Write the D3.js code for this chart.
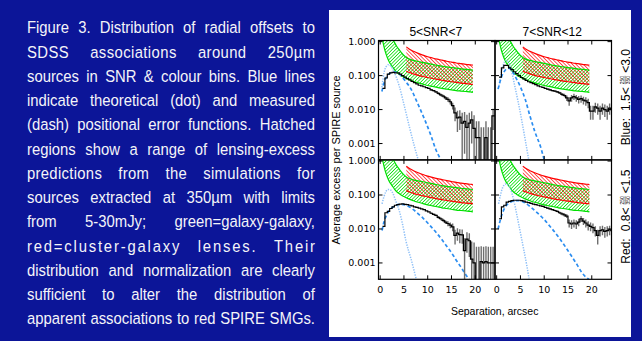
<!DOCTYPE html>
<html>
<head>
<meta charset="utf-8">
<script src="https://cdn.jsdelivr.net/npm/d3@7"></script>
<style>
  html, body { margin: 0; padding: 0; background: #0c1598; }
  svg { display: block; }
</style>
</head>
<body>
<svg id="fig" width="642" height="341"></svg>
<script>
// caption, one entry per printed line (justified)
const captionLines = [
  'Figure 3. Distribution of radial offsets to',
  'SDSS associations around 250µm',
  'sources in SNR & colour bins. Blue lines',
  'indicate theoretical (dot) and measured',
  '(dash) positional error functions. Hatched',
  'regions show a range of lensing-excess',
  'predictions from the simulations for',
  'sources extracted at 350µm with limits',
  'from 5-30mJy; green=galaxy-galaxy,',
  'red=cluster-galaxy lenses. Their',
  'distribution and normalization are clearly',
  'sufficient to alter the distribution of',
  'apparent associations to red SPIRE SMGs.'
];
// extra letter spacing (px) used by the typesetter on a few lines
const captionTracking = [0, 0.4, 0, 0, 0, 0, 0.3, 0, 0, 1.8, 0, 0, 0];

const colTitles = ['5<SNR<7', '7<SNR<12'];
const rowNames = ['Blue:', 'Red:'];
const rowLo = ['1.5<', '0.8<'];
const rowHi = ['<3.0', '<1.5'];
const yTicks = [1, 0.1, 0.01, 0.001];
const yTickLabels = ['1.000', '0.100', '0.010', '0.001'];
const xTicks = [0, 5, 10, 15, 20];

// lensing-excess predictions (same in every panel): [sep, low, high]
const greenSep = [0.5, 1, 1.5, 2, 2.5, 3, 3.5, 4, 4.5, 5, 5.5, 6, 7, 8, 9, 10, 11, 12, 13, 14, 15, 16, 17, 18, 19, 19.5];
const greenLo = [1.1, 0.55, 0.34, 0.24, 0.19, 0.15, 0.125, 0.11, 0.098, 0.09, 0.083, 0.077, 0.068, 0.061, 0.056, 0.051, 0.048, 0.045, 0.042, 0.04, 0.038, 0.036, 0.035, 0.034, 0.033, 0.032];
const greenHi = [5, 3.5, 2.6, 1.9, 1.3, 0.95, 0.72, 0.58, 0.47, 0.39, 0.34, 0.31, 0.28, 0.26, 0.245, 0.23, 0.215, 0.2, 0.19, 0.18, 0.172, 0.165, 0.158, 0.153, 0.148, 0.145];
const redSep = [5.5, 6, 7, 8, 9, 10, 11, 12, 13, 14, 15, 16, 17, 18, 19, 19.5];
const redLo = [0.135, 0.125, 0.112, 0.102, 0.094, 0.088, 0.082, 0.077, 0.073, 0.069, 0.066, 0.063, 0.06, 0.058, 0.056, 0.055];
const redHi = [0.7, 0.62, 0.52, 0.45, 0.4, 0.36, 0.33, 0.305, 0.285, 0.265, 0.25, 0.235, 0.225, 0.215, 0.207, 0.203];

// measured excess, 0.5" bins starting at 0.5"
const binStart = 0.5;
const binWidth = 0.5;
const histB1 = [0.042, 0.085, 0.11, 0.12, 0.125, 0.12, 0.12, 0.11, 0.1, 0.09, 0.082, 0.075, 0.068, 0.062, 0.057, 0.052,
  0.05, 0.047, 0.044, 0.042, 0.038, 0.036, 0.033, 0.03, 0.027, 0.025, 0.022, 0.02, 0.017, 0.013, 0.008, 0.0057,
  0.006, 0.004, 0.0045, 0.003, 0.004, 0.005, 0.0028, 0.0015, 0.0015, 0, 0, 0.0015, 0, 0, 0.0065, 0.0065];
const errB1 = [0, 0, 0, 0, 0, 0, 0, 0, 0, 0, 0, 0, 0, 0, 0, 0,
  0, 0, 0, 0, 0.002, 0.002, 0.002, 0.0025, 0.0025, 0.0025, 0.003, 0.003, 0.003, 0.003, 0.0035, 0.0035,
  0.0035, 0.004, 0.004, 0.004, 0.004, 0.004, 0.004, 0.003, 0.003, 0.003, 0.003, 0.003, 0.003, 0.003, 0.004, 0.004];
const histB2 = [0.09, 0.17, 0.2, 0.2, 0.17, 0.15, 0.13, 0.115, 0.1, 0.088, 0.08, 0.072, 0.066, 0.062, 0.058, 0.054,
  0.05, 0.047, 0.045, 0.042, 0.04, 0.038, 0.036, 0.035, 0.033, 0.031, 0.028, 0.026, 0.022, 0.018, 0.022, 0.024,
  0.022, 0.02, 0.021, 0.019, 0.018, 0.016, 0.009, 0.009, 0.012, 0.011, 0.009, 0.011, 0.01, 0.009, 0.011, 0.01];
const errB2 = [0, 0, 0, 0, 0, 0, 0, 0, 0, 0, 0, 0, 0, 0, 0, 0,
  0, 0, 0, 0, 0.002, 0.002, 0.002, 0.002, 0.0025, 0.0025, 0.003, 0.003, 0.004, 0.005, 0.005, 0.005,
  0.005, 0.005, 0.005, 0.005, 0.005, 0.005, 0.004, 0.004, 0.004, 0.004, 0.004, 0.004, 0.004, 0.004, 0.004, 0.004];
const histR1 = [0.012, 0.03, 0.033, 0.04, 0.045, 0.05, 0.052, 0.054, 0.055, 0.053, 0.052, 0.05, 0.048, 0.045, 0.043, 0.041,
  0.039, 0.037, 0.034, 0.032, 0.029, 0.027, 0.025, 0.022, 0.02, 0.018, 0.016, 0.0145, 0.013, 0.0115, 0.0065, 0.0075,
  0.0068, 0.0067, 0.0023, 0.005, 0.0045, 0.0013, 0.001, 0, 0, 0.0011, 0.001, 0.0011, 0.001, 0.001, 0.001, 0.001];
const errR1 = [0, 0, 0, 0, 0, 0, 0, 0, 0, 0, 0, 0, 0, 0, 0, 0,
  0, 0, 0, 0, 0.0015, 0.0015, 0.0015, 0.002, 0.002, 0.002, 0.002, 0.0025, 0.0025, 0.003, 0.003, 0.003,
  0.003, 0.003, 0.003, 0.003, 0.003, 0.003, 0.003, 0.003, 0.003, 0.002, 0.002, 0.002, 0.002, 0.002, 0.002, 0.002];
const histR2 = [0.02, 0.045, 0.05, 0.062, 0.065, 0.068, 0.07, 0.07, 0.07, 0.068, 0.066, 0.062, 0.06, 0.057, 0.054, 0.052,
  0.05, 0.048, 0.046, 0.043, 0.041, 0.039, 0.037, 0.035, 0.033, 0.03, 0.028, 0.026, 0.024, 0.015, 0.014, 0.015,
  0.014, 0.016, 0.02, 0.017, 0.015, 0.013, 0.012, 0.011, 0.009, 0.0065, 0.009, 0.0095, 0.0085, 0.009, 0.0095, 0.009];
const errR2 = [0, 0, 0, 0, 0, 0, 0, 0, 0, 0, 0, 0, 0, 0, 0, 0,
  0, 0, 0, 0, 0.002, 0.002, 0.002, 0.002, 0.002, 0.0025, 0.0025, 0.003, 0.003, 0.004, 0.004, 0.004,
  0.004, 0.004, 0.004, 0.004, 0.004, 0.004, 0.0035, 0.0035, 0.003, 0.003, 0.003, 0.003, 0.003, 0.003, 0.003, 0.003];

// theoretical (dot) positional error functions
const dotSepB1 = [0.36, 0.85, 1.2, 1.76, 2.26, 2.96, 4.0, 5.07, 6.1, 7.2, 8.0];
const dotB1 = [0.045, 0.126, 0.178, 0.21, 0.19, 0.126, 0.05, 0.013, 0.0033, 0.00083, 0.00033];
const dotSepB2 = [0.5, 1.0, 1.36, 1.93, 2.43, 3.1, 3.8, 4.55, 5.3, 6.0, 6.75];
const dotB2 = [0.05, 0.126, 0.2, 0.28, 0.26, 0.14, 0.05, 0.016, 0.0046, 0.0013, 0.00033];
const dotSepR1 = [0.4, 0.8, 1.2, 1.7, 2.2, 2.7, 3.3, 4.0, 4.7, 5.4, 6.0, 6.5, 7.0, 7.6];
const dotR1 = [0.055, 0.09, 0.125, 0.145, 0.14, 0.11, 0.065, 0.035, 0.014, 0.0046, 0.0022, 0.0013, 0.0007, 0.00033];
const dotSepR2 = [0.4, 0.8, 1.3, 1.9, 2.4, 2.9, 3.5, 4.2, 4.9, 5.6, 6.3, 6.8];
const dotR2 = [0.055, 0.1, 0.17, 0.21, 0.2, 0.15, 0.08, 0.028, 0.009, 0.0029, 0.0009, 0.00035];

// measured (dash) positional error functions
const dashSepB1 = [0.36, 0.85, 1.55, 2.6, 3.3, 4.37, 5.4, 6.5, 7.5, 8.6, 9.6, 10.7, 11.7, 12.8];
const dashB1 = [0.034, 0.063, 0.1, 0.126, 0.126, 0.1, 0.066, 0.04, 0.02, 0.009, 0.0042, 0.0017, 0.00067, 0.00033];
const dashSepB2 = [0.3, 1.0, 1.7, 2.4, 3.1, 3.8, 4.9, 6.0, 7.0, 8.1, 9.2, 10.0];
const dashB2 = [0.04, 0.09, 0.14, 0.165, 0.15, 0.1, 0.05, 0.02, 0.0065, 0.0021, 0.00083, 0.00033];
const dashSepR1 = [0.4, 0.8, 1.3, 2, 3, 4, 5, 6, 7, 8, 9, 10, 11, 12, 13, 14, 15, 16, 17, 18, 18.7];
const dashR1 = [0.009, 0.016, 0.025, 0.036, 0.047, 0.053, 0.052, 0.046, 0.037, 0.028, 0.021, 0.015, 0.0105, 0.0072, 0.0048,
  0.0031, 0.002, 0.0012, 0.00075, 0.00045, 0.00033];
const dashSepR2 = [0.3, 1.0, 1.7, 2.8, 3.8, 4.8, 6, 7, 8, 9, 10, 11, 12, 13, 14, 15, 16, 17, 18, 19.4];
const dashR2 = [0.01, 0.024, 0.042, 0.06, 0.068, 0.068, 0.058, 0.046, 0.035, 0.026, 0.019, 0.013, 0.0088, 0.0058, 0.0037,
  0.0023, 0.0014, 0.00085, 0.0005, 0.00033];

const panels = [
  {col: 0, row: 0, hist: histB1, err: errB1, dotSep: dotSepB1, dot: dotB1, dashSep: dashSepB1, dash: dashB1},
  {col: 1, row: 0, hist: histB2, err: errB2, dotSep: dotSepB2, dot: dotB2, dashSep: dashSepB2, dash: dashB2},
  {col: 0, row: 1, hist: histR1, err: errR1, dotSep: dotSepR1, dot: dotR1, dashSep: dashSepR1, dash: dashR1},
  {col: 1, row: 1, hist: histR2, err: errR2, dotSep: dotSepR2, dot: dotR2, dashSep: dashSepR2, dash: dashR2}
];

const svg = d3.select('#fig');
const bg = '#0c1598';
svg.append('rect').attr('width', 642).attr('height', 341).attr('fill', bg);

// ---- caption ----
const capLeft = 27, capWidth = 288, capBase = 33.3, capStep = 24.25, squeeze = 0.9;
const cap = svg.append('g')
  .attr('fill', '#f4f4f8')
  .style('font-family', '"Liberation Sans", Arial, sans-serif')
  .style('font-size', '16.5px');
captionLines.forEach((line, i) => {
  const words = line.split(' ');
  const y = capBase + i * capStep;
  const track = captionTracking[i] / squeeze;
  const nodes = words.map(w => cap.append('text').attr('x', 0).attr('y', 0).text(w));
  // natural (unsqueezed) width of each word, plus tracking between letters
  const raw = nodes.map((n, k) => n.node().getComputedTextLength() + track * (words[k].length - 1));
  const widths = raw.map(w => w * squeeze);
  const gap = words.length > 1 ? (capWidth - d3.sum(widths)) / (words.length - 1) : 0;
  let x = capLeft;
  nodes.forEach((n, k) => {
    n.attr('transform', `translate(${x},${y}) scale(${squeeze},1)`);
    if (track > 0) n.attr('textLength', raw[k]).attr('lengthAdjust', 'spacing');
    x += widths[k] + gap;
  });
});

// ---- figure panel ----
svg.append('rect')
  .attr('x', 329).attr('y', 10).attr('width', 302).attr('height', 327)
  .attr('fill', '#fff');

const left0 = 378.5, top0 = 40.5, panelW = 116.5, panelH = 119.4;
const xDomain = [-0.35, 24.15];
const yDomain = [3.3e-4, 1.08];
const floor = 1e-5;

const defs = svg.append('defs');
function hatch(id, color, angle, gap, width) {
  const p = defs.append('pattern')
    .attr('id', id)
    .attr('patternUnits', 'userSpaceOnUse')
    .attr('width', gap).attr('height', gap)
    .attr('patternTransform', `rotate(${angle})`);
  p.append('line')
    .attr('x1', 0).attr('y1', -1).attr('x2', 0).attr('y2', gap + 1)
    .attr('stroke', color).attr('stroke-width', width);
}
hatch('hatchGreen', '#00e000', 45, 2.4, 1.5);
hatch('hatchRed', '#ff0000', -45, 2.6, 1.3);

const fig = svg.append('g');

panels.forEach((p, k) => {
  const px = left0 + p.col * panelW;
  const py = top0 + p.row * panelH;
  const x = d3.scaleLinear().domain(xDomain).range([px, px + panelW]);
  const y = d3.scaleLog().domain(yDomain).range([py + panelH, py]);

  defs.append('clipPath').attr('id', 'clip' + k)
    .append('rect').attr('x', px).attr('y', py).attr('width', panelW).attr('height', panelH);
  const g = fig.append('g').attr('clip-path', `url(#clip${k})`);

  const band = d3.area()
    .x(d => x(d[0])).y0(d => y(d[1])).y1(d => y(d[2]))
    .curve(d3.curveMonotoneX);
  const edge = d3.line().x(d => x(d[0])).y(d => y(d[1])).curve(d3.curveMonotoneX);

  const green = greenSep.map((s, i) => [s, greenLo[i], greenHi[i]]);
  const red = redSep.map((s, i) => [s, redLo[i], redHi[i]]);

  g.append('path').attr('d', band(green)).attr('fill', 'url(#hatchGreen)');
  g.append('path').attr('d', band(red)).attr('fill', 'url(#hatchRed)');
  [[green, '#00e000'], [red, '#ff0000']].forEach(([pts, c]) => {
    g.append('path').attr('d', edge(pts.map(d => [d[0], d[1]])))
      .attr('fill', 'none').attr('stroke', c).attr('stroke-width', 1.2);
    g.append('path').attr('d', edge(pts.map(d => [d[0], d[2]])))
      .attr('fill', 'none').attr('stroke', c).attr('stroke-width', 1.2);
  });

  // positional error functions
  const curve = d3.line().x(d => x(d[0])).y(d => y(d[1])).curve(d3.curveMonotoneX);
  g.append('path')
    .attr('d', curve(p.dotSep.map((s, i) => [s, p.dot[i]])))
    .attr('fill', 'none').attr('stroke', '#8dbff7').attr('stroke-width', 1.5)
    .attr('stroke-dasharray', '1.3,1.3');
  g.append('path')
    .attr('d', curve(p.dashSep.map((s, i) => [s, p.dash[i]])))
    .attr('fill', 'none').attr('stroke', '#2b8df0').attr('stroke-width', 1.7)
    .attr('stroke-dasharray', '3.5,2.5');

  // histogram with error bars
  const bins = p.hist.map((v, i) => [binStart + i * binWidth, v, p.err[i]]);
  g.selectAll('line.err')
    .data(bins.filter(d => d[2] > 0))
    .enter().append('line')
    .attr('class', 'err')
    .attr('x1', d => x(d[0] + binWidth / 2)).attr('x2', d => x(d[0] + binWidth / 2))
    .attr('y1', d => y(Math.max(d[1] - d[2], floor)))
    .attr('y2', d => y(d[1] + d[2]))
    .attr('stroke', '#6e6e6e').attr('stroke-width', 1.4);
  const last = bins[bins.length - 1];
  const steps = bins.concat([[last[0] + binWidth, last[1]]]);
  g.append('path')
    .attr('d', d3.line().x(d => x(d[0])).y(d => y(Math.max(d[1], floor))).curve(d3.curveStepAfter)(steps))
    .attr('fill', 'none').attr('stroke', '#000').attr('stroke-width', 1.2);

  // frame and ticks
  fig.append('rect')
    .attr('x', px).attr('y', py).attr('width', panelW).attr('height', panelH)
    .attr('fill', 'none').attr('stroke', '#000').attr('stroke-width', 1.2);
  const ticks = fig.append('g').attr('stroke', '#000').attr('stroke-width', 1);
  yTicks.forEach(t => {
    ticks.append('line').attr('x1', px).attr('x2', px + 4).attr('y1', y(t)).attr('y2', y(t));
    ticks.append('line').attr('x1', px + panelW - 4).attr('x2', px + panelW).attr('y1', y(t)).attr('y2', y(t));
  });
  xTicks.forEach(t => {
    ticks.append('line').attr('x1', x(t)).attr('x2', x(t)).attr('y1', py + panelH).attr('y2', py + panelH - 4);
    ticks.append('line').attr('x1', x(t)).attr('x2', x(t)).attr('y1', py).attr('y2', py + 4);
  });

  // tick labels
  if (p.col === 0) {
    fig.append('g').selectAll('text').data(yTicks).enter().append('text')
      .attr('x', px - 3).attr('y', d => y(d)).attr('dy', '0.36em')
      .attr('text-anchor', 'end')
      .style('font-family', '"DejaVu Sans", sans-serif').style('font-size', '9.5px')
      .text((d, i) => yTickLabels[i]);
  }
  if (p.row === 1) {
    fig.append('g').selectAll('text').data(xTicks).enter().append('text')
      .attr('x', d => x(d)).attr('y', 293.3)
      .attr('text-anchor', 'middle')
      .style('font-family', '"DejaVu Sans", sans-serif').style('font-size', '9.5px')
      .text(d => d);
  }
  if (p.row === 0) {
    fig.append('text')
      .attr('x', px + panelW / 2 - 1).attr('y', 36)
      .attr('text-anchor', 'middle')
      .style('font-family', '"Liberation Sans", Arial, sans-serif').style('font-size', '12px')
      .text(colTitles[p.col]);
  }
});

// axis titles
fig.append('text')
  .attr('transform', 'translate(339.5,160) rotate(-90)')
  .attr('text-anchor', 'middle')
  .style('font-family', '"Liberation Sans", Arial, sans-serif').style('font-size', '11px')
  .text('Average excess per SPIRE source');
fig.append('text')
  .attr('x', 494.7).attr('y', 315)
  .attr('text-anchor', 'middle')
  .style('font-family', '"Liberation Sans", Arial, sans-serif').style('font-size', '10.5px')
  .text('Separation, arcsec');

// colour-bin labels on the right, with the 250/350 fraction
rowNames.forEach((name, r) => {
  const mid = top0 + r * panelH + panelH / 2 - 3;
  const g = fig.append('g')
    .attr('transform', `translate(629.5,${mid}) rotate(-90)`)
    .style('font-family', '"Liberation Sans", Arial, sans-serif');
  const t0 = g.append('text').style('font-size', '12px').text(name);
  const t1 = g.append('text').style('font-size', '12px').text(rowLo[r]);
  const t2 = g.append('text').style('font-size', '12px').text(rowHi[r]);
  const fTop = g.append('text').style('font-size', '5px').attr('text-anchor', 'middle').text('250');
  const fBot = g.append('text').style('font-size', '5px').attr('text-anchor', 'middle').text('350');
  const w0 = t0.node().getComputedTextLength();
  const w1 = t1.node().getComputedTextLength();
  const w2 = t2.node().getComputedTextLength();
  const wf = fTop.node().getComputedTextLength();
  const gapName = 7, pad = 3;
  const total = w0 + gapName + w1 + pad + wf + pad + w2;
  let cx = -total / 2;
  t0.attr('x', cx);
  cx += w0 + gapName;
  t1.attr('x', cx);
  cx += w1 + pad;
  fTop.attr('x', cx + wf / 2).attr('y', -5.6);
  fBot.attr('x', cx + wf / 2).attr('y', 0.8);
  g.append('line').attr('x1', cx).attr('x2', cx + wf).attr('y1', -4.4).attr('y2', -4.4)
    .attr('stroke', '#000').attr('stroke-width', 0.5);
  cx += wf + pad;
  t2.attr('x', cx);
});
</script>
</body>
</html>
